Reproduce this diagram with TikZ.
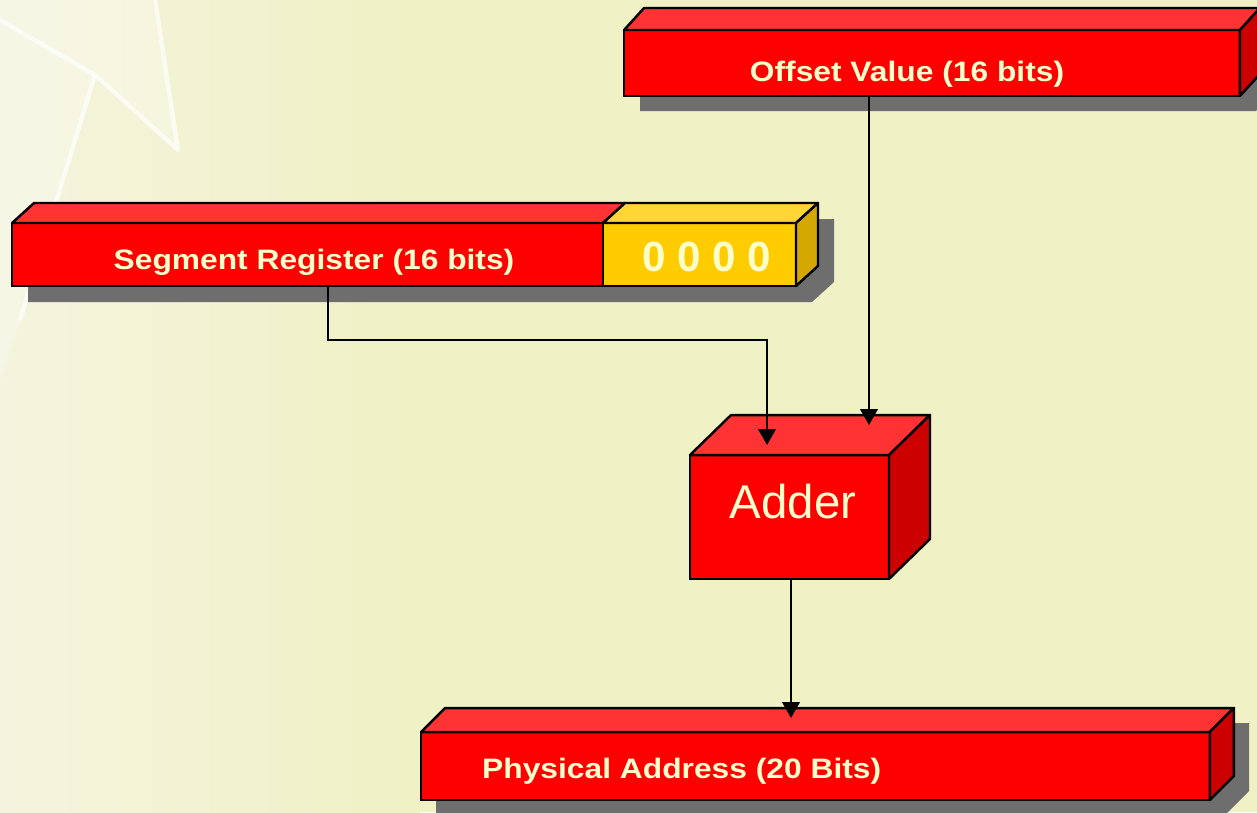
\documentclass[tikz,border=0pt]{standalone}
\usepackage{fontspec}
\setmainfont{Liberation Sans}
\newfontfamily\boxlabelfont[FakeStretch=1.13]{Liberation Sans}
\usetikzlibrary{arrows.meta}

\definecolor{bgcol}{RGB}{240,241,196}
\definecolor{bgleft}{RGB}{244,244,222}
\definecolor{redfront}{RGB}{255,0,0}
\definecolor{redtop}{RGB}{255,51,51}
\definecolor{redside}{RGB}{204,0,0}
\definecolor{yelfront}{RGB}{255,204,0}
\definecolor{yeltop}{RGB}{255,214,51}
\definecolor{yelside}{RGB}{212,168,0}
\definecolor{shadowcol}{RGB}{110,110,110}
\definecolor{textcol}{RGB}{255,255,204}

% top and right faces of a box, drawn from its front node
\newcommand\topface[4]{%
  \filldraw[face, fill=#4] (#1.north west) -- ++(#2,-#3) -- ([shift={(#2,-#3)}]#1.north east) -- (#1.north east) -- cycle;}
\newcommand\sideface[4]{%
  \filldraw[face, fill=#4] (#1.north east) -- ++(#2,-#3) -- ([shift={(#2,-#3)}]#1.south east) -- (#1.south east) -- cycle;}

\begin{document}
\begin{tikzpicture}[x=0.02cm, y={(0,-0.02cm)},
  face/.style={draw=black, line width=1.4pt, line join=round},
  front/.style={rectangle, draw=black, line width=1.4pt, inner sep=0pt, outer sep=0pt},
  boxtext/.style={text=textcol, font=\boxlabelfont\bfseries\fontsize{16}{19}\selectfont},
  conn/.style={line width=1pt, -{Triangle[length=9pt,width=10pt]}}]

\useasboundingbox (0,0) rectangle (1257,812);
\clip (0,0) rectangle (1257,812);

% background
\fill[bgcol] (0,0) rectangle (1257,812);
\shade[left color=bgleft, right color=bgcol] (0,0) rectangle (420,812);
\fill[white, opacity=.25] (0,0) -- (152,0) -- (178,150) -- (95,75) -- (20,320) -- (0,380) -- cycle;
\draw[white, opacity=.7, line width=2.5pt, line join=round] (0,20) -- (95,75) -- (178,150) -- (155,0);
\draw[white, opacity=.7, line width=2.5pt] (95,75) -- (20,320);

% shadows
\fill[shadowcol] (640,111) -- (640,45) -- (660,23) -- (1276,23) -- (1276,89) -- (1256,111) -- cycle;
\fill[shadowcol] (28,302) -- (28,239) -- (50,219) -- (834,219) -- (834,282) -- (812,302) -- cycle;
\fill[shadowcol] (436,815) -- (436,747) -- (460,723) -- (1249,723) -- (1249,791) -- (1225,815) -- cycle;

% offset value
\node[front, fill=redfront, minimum width=12.32cm, minimum height=1.32cm] (offset) at (932,63) {};
\topface{offset}{20}{22}{redtop}
\sideface{offset}{20}{22}{redside}
\node[boxtext] (offsettxt) at (907,74) {Offset Value (16 bits)};

% segment register + 0000
\node[front, fill=redfront, minimum width=11.82cm, minimum height=1.26cm] (segreg) at (307.5,254.5) {};
\node[front, fill=yelfront, minimum width=3.86cm, minimum height=1.26cm] (zeros) at (699.5,254.5) {};
\topface{segreg}{22}{20}{redtop}
\topface{zeros}{22}{20}{yeltop}
\sideface{zeros}{22}{20}{yelside}
\node[boxtext] (segtxt) at (314,262) {Segment Register (16 bits)};
\node[text=textcol, font=\bfseries\fontsize{24}{28}\selectfont] (zerotxt) at (707,257) {0 0 0 0};

% adder
\node[front, fill=redfront, minimum width=3.98cm, minimum height=2.48cm] (adder) at (789.5,517) {};
\topface{adder}{41}{40}{redtop}
\sideface{adder}{41}{40}{redside}
\node[text=textcol, font=\fontsize{27}{32}\selectfont] (addertxt) at (793,502) {Adder};

% physical address
\node[front, fill=redfront, minimum width=15.78cm, minimum height=1.36cm] (phys) at (815.5,766) {};
\topface{phys}{24}{24}{redtop}
\sideface{phys}{24}{24}{redside}
\node[boxtext, anchor=west] (phystxt) at (476,771) {Physical Address (20 Bits)};

% connectors
\coordinate (offin) at (869,425);
\coordinate (segbend) at (328,340);
\coordinate (segin) at (767,445);
\coordinate (physin) at (791,718);
\draw[conn] (offset.south -| offin) -- (offin);
\draw[conn] (segreg.south -| segbend) -- (segbend) -| (segin);
\draw[conn] (adder.south -| physin) -- (physin);

\end{tikzpicture}
\end{document}
